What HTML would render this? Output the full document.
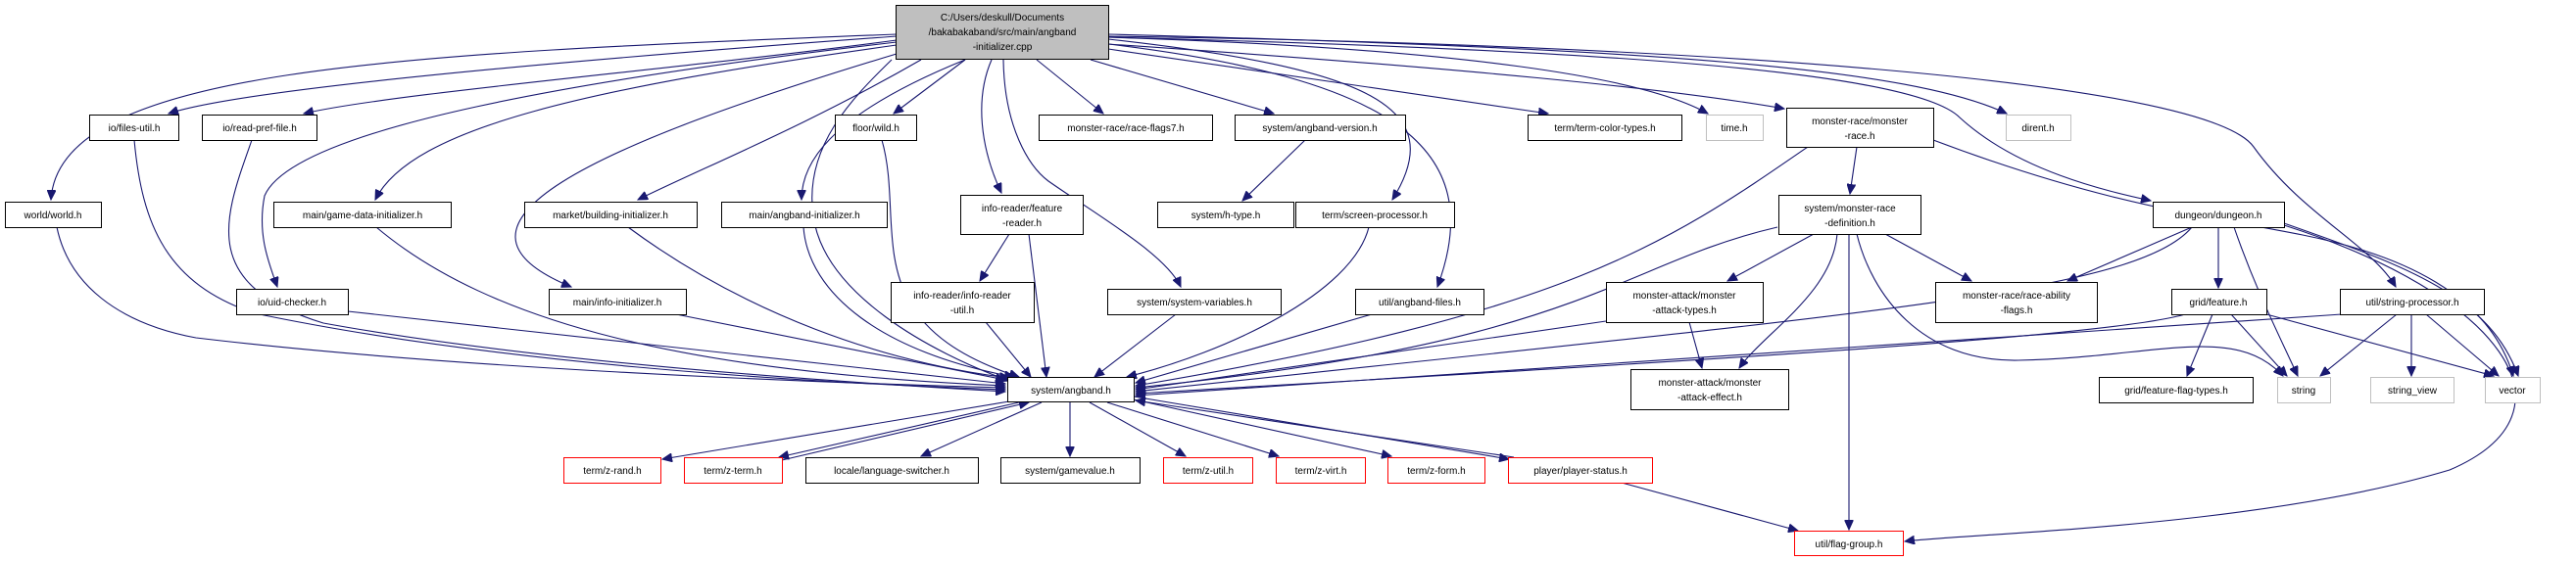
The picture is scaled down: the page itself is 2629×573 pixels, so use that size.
<!DOCTYPE html>
<html><head><meta charset="utf-8"><style>
html,body{margin:0;padding:0;background:#fff;}
svg{display:block;}
text{font-family:"Liberation Sans",Arial,sans-serif;font-size:10px;fill:#000;}
.e{fill:none;stroke:#191970;stroke-width:1.1;}
</style></head><body>
<svg width="2629" height="573" viewBox="0 0 2629 573" xmlns="http://www.w3.org/2000/svg">
<defs>
<marker id="a" markerUnits="userSpaceOnUse" markerWidth="11" markerHeight="9" refX="10" refY="4.5" orient="auto">
<path d="M0,0 L10,4.5 L0,9 z" fill="#191970" stroke="#191970"/>
</marker>
</defs>
<g marker-end="url(#a)">
<!-- from main -->
<path class="e" d="M915,35 C400,55 60,70 52,204"/>
<path class="e" d="M915,37 C600,60 250,90 172,116"/>
<path class="e" d="M915,41 C700,70 400,95 310,116"/>
<path class="e" d="M915,43 C600,80 300,130 270,200 C262,240 275,270 283,293"/>
<path class="e" d="M915,46 C600,90 420,130 383,204"/>
<path class="e" d="M915,55 C600,150 430,230 583,293"/>
<path class="e" d="M940,61 C820,130 720,170 651,204"/>
<path class="e" d="M985,61 C840,120 818,170 818,204"/>
<path class="e" d="M910,61 C870,100 820,150 830,220 C840,300 950,360 1030,389"/>
<path class="e" d="M985,61 L912,116"/>
<path class="e" d="M1012,61 C995,100 1000,150 1022,197"/>
<path class="e" d="M1024,61 C1025,130 1050,170 1070,185 C1120,220 1190,260 1205,293"/>
<path class="e" d="M1058,61 L1126,116"/>
<path class="e" d="M1113,61 L1300,116"/>
<path class="e" d="M1131,40 C1400,70 1480,110 1421,204"/>
<path class="e" d="M1131,45 C1420,80 1520,150 1467,293"/>
<path class="e" d="M1131,50 L1580,116"/>
<path class="e" d="M1131,38 C1500,50 1680,80 1743,116"/>
<path class="e" d="M1131,45 C1500,70 1700,90 1821,111"/>
<path class="e" d="M1131,35 C1700,50 1950,70 2048,116"/>
<path class="e" d="M1131,38 C1600,50 1950,70 2000,120 C2060,175 2150,195 2195,205"/>
<path class="e" d="M1131,37 C1700,45 2250,80 2300,150 C2350,220 2420,250 2445,293"/>
<!-- into angband.h -->
<path class="e" d="M58,232 C70,290 120,330 200,345 C450,375 800,390 1026,396"/>
<path class="e" d="M137,143 C145,230 170,290 260,320 C500,370 800,390 1026,398"/>
<path class="e" d="M257,143 C230,220 200,290 330,330 C550,370 850,390 1026,400"/>
<path class="e" d="M355,318 L1026,392"/>
<path class="e" d="M384,232 C500,330 700,380 1026,394"/>
<path class="e" d="M690,321 L1026,388"/>
<path class="e" d="M641,232 C760,320 900,370 1030,386"/>
<path class="e" d="M820,232 C825,300 900,360 1035,385"/>
<path class="e" d="M900,143 C925,230 870,330 1040,385"/>
<path class="e" d="M1050,239 L1068,385"/>
<path class="e" d="M1006,329 L1052,385"/>
<path class="e" d="M1200,321 L1117,385"/>
<path class="e" d="M1397,232 C1380,300 1250,360 1150,385"/>
<path class="e" d="M1400,321 L1159,391"/>
<path class="e" d="M1845,150 C1700,250 1600,320 1159,394"/>
<path class="e" d="M1814,232 C1650,270 1620,350 1159,396"/>
<path class="e" d="M1639,328 L1159,398"/>
<path class="e" d="M2237,232 C2180,300 1900,320 1159,400"/>
<path class="e" d="M2230,321 C2150,345 1700,370 1159,402"/>
<path class="e" d="M2390,321 L1159,404"/>
<!-- from angband.h -->
<path class="e" d="M1030,410 L676,469"/>
<path class="e" d="M1040,411 L795,467"/>
<path class="e" d="M798,470 L1050,411"/>
<path class="e" d="M1063,411 L940,466"/>
<path class="e" d="M1092,411 L1092,466"/>
<path class="e" d="M1112,411 L1210,466"/>
<path class="e" d="M1130,411 L1305,466"/>
<path class="e" d="M1157,408 L1420,466"/>
<path class="e" d="M1157,405 L1540,469"/>
<path class="e" d="M1545,467 L1159,409"/>
<!-- others -->
<path class="e" d="M1332,143 L1268,205"/>
<path class="e" d="M1030,239 L1000,287"/>
<path class="e" d="M1895,150 L1888,198"/>
<path class="e" d="M1973,143 C2150,210 2250,220 2350,240 C2450,260 2540,300 2565,384"/>
<path class="e" d="M1851,239 L1763,287"/>
<path class="e" d="M1875,239 C1870,300 1800,340 1775,376"/>
<path class="e" d="M1887,239 L1887,541"/>
<path class="e" d="M1895,239 C1910,300 1960,370 2060,368 C2200,365 2280,330 2330,384"/>
<path class="e" d="M1924,239 L2012,287"/>
<path class="e" d="M1724,329 L1737,376"/>
<path class="e" d="M2237,232 L2110,287"/>
<path class="e" d="M2264,232 L2264,294"/>
<path class="e" d="M2280,232 C2300,290 2320,330 2345,384"/>
<path class="e" d="M2331,228 C2450,270 2540,300 2570,384"/>
<path class="e" d="M2331,230 C2550,300 2640,420 2500,480 C2300,540 2000,545 1944,553"/>
<path class="e" d="M2258,321 L2232,384"/>
<path class="e" d="M2277,321 L2334,384"/>
<path class="e" d="M2313,321 L2545,384"/>
<path class="e" d="M2446,321 L2368,384"/>
<path class="e" d="M2461,321 L2461,384"/>
<path class="e" d="M2476,321 L2550,384"/>
<path class="e" d="M1655,493 L1835,542"/>
</g>
<!-- nodes -->
<g stroke-width="1">
<rect x="914.5" y="5.5" width="217" height="55" fill="#bfbfbf" stroke="#000"/>
<text x="1023" y="21" text-anchor="middle">C:/Users/deskull/Documents</text>
<text x="1023" y="36" text-anchor="middle">/bakabakaband/src/main/angband</text>
<text x="1023" y="51" text-anchor="middle">-initializer.cpp</text>
</g>
<g fill="#fff" stroke="#000">
<rect x="91.5" y="117.5" width="91" height="26"/>
<rect x="206.5" y="117.5" width="117" height="26"/>
<rect x="852.5" y="117.5" width="83" height="26"/>
<rect x="1060.5" y="117.5" width="177" height="26"/>
<rect x="1260.5" y="117.5" width="174" height="26"/>
<rect x="1559.5" y="117.5" width="157" height="26"/>
<rect x="1823.5" y="110.5" width="150" height="40"/>
<rect x="5.5" y="206.5" width="98" height="26"/>
<rect x="279.5" y="206.5" width="181" height="26"/>
<rect x="535.5" y="206.5" width="176" height="26"/>
<rect x="736.5" y="206.5" width="169" height="26"/>
<rect x="980.5" y="199.5" width="125" height="40"/>
<rect x="1181.5" y="206.5" width="139" height="26"/>
<rect x="1322.5" y="206.5" width="162" height="26"/>
<rect x="1815.5" y="199.5" width="145" height="40"/>
<rect x="2197.5" y="206.5" width="134" height="26"/>
<rect x="241.5" y="295.5" width="114" height="26"/>
<rect x="560.5" y="295.5" width="140" height="26"/>
<rect x="909.5" y="288.5" width="146" height="41"/>
<rect x="1130.5" y="295.5" width="177" height="26"/>
<rect x="1383.5" y="295.5" width="131" height="26"/>
<rect x="1639.5" y="288.5" width="160" height="41"/>
<rect x="1975.5" y="288.5" width="165" height="41"/>
<rect x="2216.5" y="295.5" width="97" height="26"/>
<rect x="2388.5" y="295.5" width="147" height="26"/>
<rect x="1028.5" y="385.5" width="129" height="25"/>
<rect x="1664.5" y="377.5" width="161" height="41"/>
<rect x="2142.5" y="385.5" width="157" height="26"/>
<rect x="822.5" y="467.5" width="176" height="26"/>
<rect x="1021.5" y="467.5" width="142" height="26"/>
</g>
<g fill="#fff" stroke="#bfbfbf">
<rect x="1741.5" y="117.5" width="58" height="26"/>
<rect x="2047.5" y="117.5" width="66" height="26"/>
<rect x="2324.5" y="385.5" width="54" height="26"/>
<rect x="2419.5" y="385.5" width="85" height="26"/>
<rect x="2536.5" y="385.5" width="56" height="26"/>
</g>
<g fill="#fff" stroke="#ff0000">
<rect x="575.5" y="467.5" width="99" height="26"/>
<rect x="698.5" y="467.5" width="100" height="26"/>
<rect x="1187.5" y="467.5" width="91" height="26"/>
<rect x="1302.5" y="467.5" width="91" height="26"/>
<rect x="1416.5" y="467.5" width="99" height="26"/>
<rect x="1539.5" y="467.5" width="147" height="26"/>
<rect x="1831.5" y="542.5" width="111" height="25"/>
</g>
<g text-anchor="middle">
<text x="137" y="134">io/files-util.h</text>
<text x="265" y="134">io/read-pref-file.h</text>
<text x="894" y="134">floor/wild.h</text>
<text x="1149" y="134">monster-race/race-flags7.h</text>
<text x="1347" y="134">system/angband-version.h</text>
<text x="1638" y="134">term/term-color-types.h</text>
<text x="1770" y="134">time.h</text>
<text x="1898" y="127">monster-race/monster</text>
<text x="1898" y="142">-race.h</text>
<text x="2080" y="134">dirent.h</text>
<text x="54" y="223">world/world.h</text>
<text x="370" y="223">main/game-data-initializer.h</text>
<text x="623" y="223">market/building-initializer.h</text>
<text x="821" y="223">main/angband-initializer.h</text>
<text x="1043" y="216">info-reader/feature</text>
<text x="1043" y="231">-reader.h</text>
<text x="1251" y="223">system/h-type.h</text>
<text x="1403" y="223">term/screen-processor.h</text>
<text x="1888" y="216">system/monster-race</text>
<text x="1888" y="231">-definition.h</text>
<text x="2264" y="223">dungeon/dungeon.h</text>
<text x="298" y="312">io/uid-checker.h</text>
<text x="630" y="312">main/info-initializer.h</text>
<text x="982" y="305">info-reader/info-reader</text>
<text x="982" y="320">-util.h</text>
<text x="1219" y="312">system/system-variables.h</text>
<text x="1449" y="312">util/angband-files.h</text>
<text x="1719" y="305">monster-attack/monster</text>
<text x="1719" y="320">-attack-types.h</text>
<text x="2058" y="305">monster-race/race-ability</text>
<text x="2058" y="320">-flags.h</text>
<text x="2264" y="312">grid/feature.h</text>
<text x="2462" y="312">util/string-processor.h</text>
<text x="1093" y="402">system/angband.h</text>
<text x="1745" y="394">monster-attack/monster</text>
<text x="1745" y="409">-attack-effect.h</text>
<text x="2221" y="402">grid/feature-flag-types.h</text>
<text x="2351" y="402">string</text>
<text x="2462" y="402">string_view</text>
<text x="2564" y="402">vector</text>
<text x="625" y="484">term/z-rand.h</text>
<text x="748" y="484">term/z-term.h</text>
<text x="910" y="484">locale/language-switcher.h</text>
<text x="1092" y="484">system/gamevalue.h</text>
<text x="1233" y="484">term/z-util.h</text>
<text x="1348" y="484">term/z-virt.h</text>
<text x="1466" y="484">term/z-form.h</text>
<text x="1613" y="484">player/player-status.h</text>
<text x="1887" y="559">util/flag-group.h</text>
</g>
</svg>
</body></html>
